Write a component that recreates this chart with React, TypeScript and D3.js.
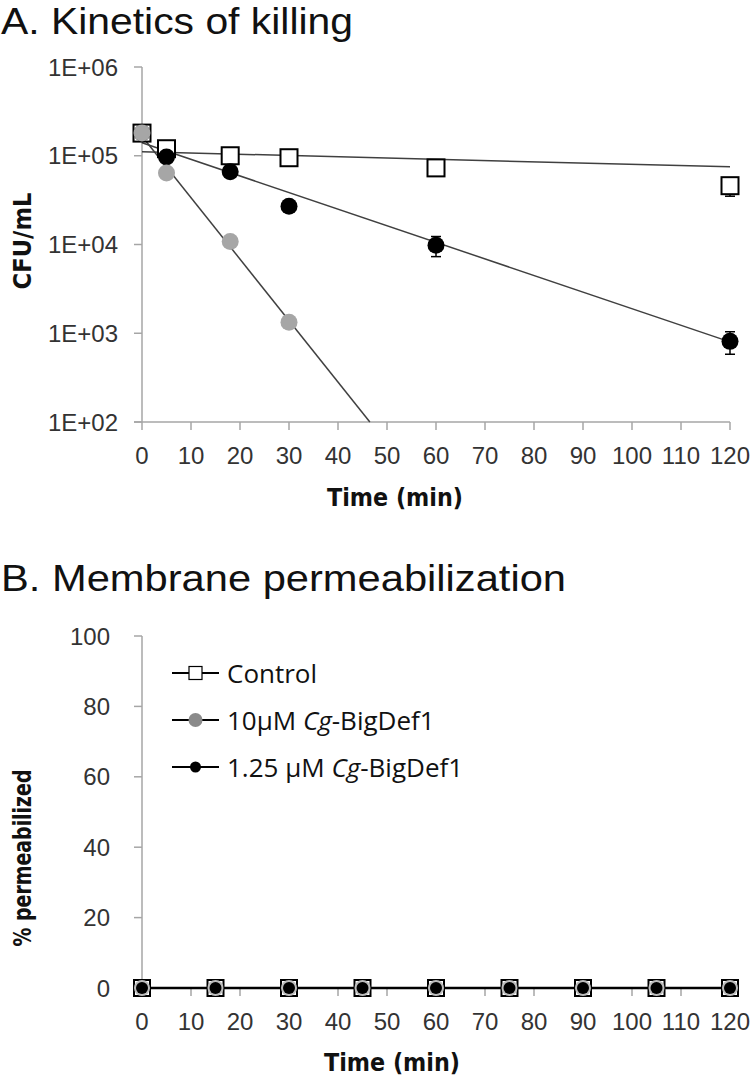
import React from "react";
import * as d3 from "d3";

// ---------- Panel A data ----------
const timeA = [0, 5, 18, 30, 60, 120];
const controlA = [1.8e5, 1.2e5, 1.0e5, 0.95e5, 7.3e4, 4.6e4];
const controlErrA = [0, 0, 0, 0, 0, 1.1e4];
const bigdef125A = [1.8e5, 0.97e5, 6.6e4, 2.7e4, 9.8e3, 8.1e2];
const bigdef125ErrA = [0, 0, 0, 0, 2.5e3, 2.3e2];
const timeA10 = [0, 5, 18, 30];
const bigdef10A = [1.8e5, 6.4e4, 1.08e4, 1.33e3];
// exponential trend lines (endpoints)
const fitControl: [number, number][] = [[0, 1.11e5], [120, 7.5e4]];
const fit125: [number, number][] = [[0, 1.4e5], [120, 8.0e2]];
const fit10: [number, number][] = [[0, 1.66e5], [46.5, 1e2]];
const yTicksA = [1e2, 1e3, 1e4, 1e5, 1e6];
const yTickLabelsA = ["1E+02", "1E+03", "1E+04", "1E+05", "1E+06"];
const xTicks = [0, 10, 20, 30, 40, 50, 60, 70, 80, 90, 100, 110, 120];

// ---------- Panel B data ----------
const timeB = [0, 15, 30, 45, 60, 75, 90, 105, 120];
const controlB = [0, 0, 0, 0, 0, 0, 0, 0, 0];
const bigdef10B = [0, 0, 0, 0, 0, 0, 0, 0, 0];
const bigdef125B = [0, 0, 0, 0, 0, 0, 0, 0, 0];
const yTicksB = [0, 20, 40, 60, 80, 100];

const AXIS = "#a6a6a6";
const FIT = "#404040";
const GREY_A = "#a6a6a6";
const GREY_B = "#8a8a8a";
const TICKFONT = "'Liberation Sans', Arial, sans-serif";
const TITLEFONT = "'Liberation Sans', Arial, sans-serif";
const LEGENDFONT = "'Open Sans', 'Noto Sans', sans-serif";

export default function App() {
  const x = d3.scaleLinear().domain([0, 120]).range([142, 730]);
  const yA = d3.scaleLog().domain([1e2, 1e6]).range([422, 67]);
  const yB = d3.scaleLinear().domain([0, 100]).range([988, 636]);

  const lineA = d3
    .line<[number, number]>()
    .x((d) => x(d[0]))
    .y((d) => yA(d[1]));
  const lineB = d3
    .line<number>()
    .x((_, i) => x(timeB[i]))
    .y((d) => yB(d));

  const sq = 17;
  const r = 8.5;

  return (
    <svg
      width={750}
      height={1079}
      style={{ position: "absolute", left: 0, top: 0, background: "#fff" }}
    >
      <rect x={0} y={0} width={750} height={1079} fill="#fff" />
      {/* ---------- Titles ---------- */}
      <text x={1} y={34} fontFamily={TITLEFONT} fontSize={37} fill="#111" textLength={352} lengthAdjust="spacingAndGlyphs">
        A. Kinetics of killing
      </text>
      <text x={1} y={591} fontFamily={TITLEFONT} fontSize={37} fill="#111" textLength={565} lengthAdjust="spacingAndGlyphs">
        B. Membrane permeabilization
      </text>

      {/* ---------- Panel A axes ---------- */}
      <g>
        <line x1={142} x2={142} y1={yA(1e6)} y2={yA(1e2)} stroke={AXIS} strokeWidth={1.5} />
        <line x1={134} x2={x(120)} y1={yA(1e2)} y2={yA(1e2)} stroke={AXIS} strokeWidth={1.5} />
        {yTicksA.map((t, i) => (
          <g key={"ya" + t}>
            <line x1={134} x2={142} y1={yA(t)} y2={yA(t)} stroke={AXIS} strokeWidth={1.5} />
            <text x={118} y={yA(t) + 8.5} textAnchor="end" fontFamily={TICKFONT} fontSize={24} fill="#333">
              {yTickLabelsA[i]}
            </text>
          </g>
        ))}
        {xTicks.map((t) => (
          <g key={"xa" + t}>
            <line x1={x(t)} x2={x(t)} y1={422} y2={430} stroke={AXIS} strokeWidth={1.5} />
            <text x={x(t)} y={464} textAnchor="middle" fontFamily={TICKFONT} fontSize={24} fill="#333">
              {t}
            </text>
          </g>
        ))}
        <text x={395} y={506} textAnchor="middle" fontFamily="'DejaVu Sans', sans-serif" fontWeight="bold" fontSize={24} fill="#111" textLength={136} lengthAdjust="spacingAndGlyphs">
          Time (min)
        </text>
        <text transform="translate(31,241) rotate(-90)" textAnchor="middle" fontFamily="'DejaVu Sans', sans-serif" fontWeight="bold" fontSize={25} fill="#111" textLength={97} lengthAdjust="spacingAndGlyphs">
          CFU/mL
        </text>
      </g>

      {/* ---------- Panel A fit lines ---------- */}
      <path d={lineA(fitControl) || ""} fill="none" stroke={FIT} strokeWidth={1.5} />
      <path d={lineA(fit125) || ""} fill="none" stroke={FIT} strokeWidth={1.5} />
      <path d={lineA(fit10) || ""} fill="none" stroke={FIT} strokeWidth={1.5} />

      {/* ---------- Panel A error bars ---------- */}
      {timeA.map((t, i) =>
        controlErrA[i] > 0 ? (
          <g key={"ec" + t} stroke="#000" strokeWidth={1.5}>
            <line x1={x(t)} x2={x(t)} y1={yA(controlA[i] + controlErrA[i])} y2={yA(controlA[i] - controlErrA[i])} />
            <line x1={x(t) - 5} x2={x(t) + 5} y1={yA(controlA[i] - controlErrA[i])} y2={yA(controlA[i] - controlErrA[i])} />
          </g>
        ) : null
      )}
      {timeA.map((t, i) =>
        bigdef125ErrA[i] > 0 ? (
          <g key={"eb" + t} stroke="#000" strokeWidth={1.5}>
            <line x1={x(t)} x2={x(t)} y1={yA(bigdef125A[i] + bigdef125ErrA[i])} y2={yA(bigdef125A[i] - bigdef125ErrA[i])} />
            <line x1={x(t) - 5} x2={x(t) + 5} y1={yA(bigdef125A[i] + bigdef125ErrA[i])} y2={yA(bigdef125A[i] + bigdef125ErrA[i])} />
            <line x1={x(t) - 5} x2={x(t) + 5} y1={yA(bigdef125A[i] - bigdef125ErrA[i])} y2={yA(bigdef125A[i] - bigdef125ErrA[i])} />
          </g>
        ) : null
      )}

      {/* ---------- Panel A markers ---------- */}
      {timeA.map((t, i) => (
        <rect key={"ca" + t} x={x(t) - sq / 2} y={yA(controlA[i]) - sq / 2} width={sq} height={sq} fill="#fff" stroke="#000" strokeWidth={2} />
      ))}
      {timeA.map((t, i) => (
        <circle key={"ba" + t} cx={x(t)} cy={yA(bigdef125A[i])} r={r} fill="#000" />
      ))}
      {timeA10.map((t, i) => (
        <circle key={"ga" + t} cx={x(t)} cy={yA(bigdef10A[i])} r={r} fill={GREY_A} />
      ))}

      {/* ---------- Panel B axes ---------- */}
      <g>
        <line x1={142} x2={142} y1={yB(100)} y2={yB(0)} stroke={AXIS} strokeWidth={1.5} />
        <line x1={142} x2={x(120)} y1={yB(0)} y2={yB(0)} stroke={AXIS} strokeWidth={1.5} />
        {yTicksB.map((t) => (
          <g key={"yb" + t}>
            <line x1={134} x2={142} y1={yB(t)} y2={yB(t)} stroke={AXIS} strokeWidth={1.5} />
            <text x={110} y={yB(t) + 8.5} textAnchor="end" fontFamily={TICKFONT} fontSize={24} fill="#333">
              {t}
            </text>
          </g>
        ))}
        {xTicks.map((t) => (
          <g key={"xb" + t}>
            <line x1={x(t)} x2={x(t)} y1={988} y2={996} stroke={AXIS} strokeWidth={1.5} />
            <text x={x(t)} y={1030} textAnchor="middle" fontFamily={TICKFONT} fontSize={24} fill="#333">
              {t}
            </text>
          </g>
        ))}
        <text x={392} y={1071} textAnchor="middle" fontFamily="'DejaVu Sans', sans-serif" fontWeight="bold" fontSize={24} fill="#111" textLength={136} lengthAdjust="spacingAndGlyphs">
          Time (min)
        </text>
        <text transform="translate(31,858) rotate(-90)" textAnchor="middle" fontFamily="'DejaVu Sans', sans-serif" fontWeight="bold" fontSize={24} fill="#111" textLength={177} lengthAdjust="spacingAndGlyphs">
          % permeabilized
        </text>
      </g>

      {/* ---------- Panel B series ---------- */}
      <path d={lineB(controlB) || ""} fill="none" stroke="#000" strokeWidth={1.5} />
      <path d={lineB(bigdef10B) || ""} fill="none" stroke="#000" strokeWidth={2} />
      <path d={lineB(bigdef125B) || ""} fill="none" stroke="#000" strokeWidth={2.5} />
      {timeB.map((t, i) => (
        <rect key={"cb" + t} x={x(t) - 8} y={yB(controlB[i]) - 8} width={16} height={16} fill="#fff" stroke="#000" strokeWidth={2} />
      ))}
      {timeB.map((t, i) => (
        <circle key={"gb" + t} cx={x(t)} cy={yB(bigdef10B[i])} r={8} fill="#bdbdbd" />
      ))}
      {timeB.map((t, i) => (
        <circle key={"bb" + t} cx={x(t)} cy={yB(bigdef125B[i])} r={6} fill="#000" />
      ))}

      {/* ---------- Panel B legend ---------- */}
      <g fontFamily={LEGENDFONT} fontSize={26} fill="#111">
        <line x1={172} x2={219} y1={673} y2={673} stroke="#000" strokeWidth={2} />
        <rect x={189} y={666.5} width={13} height={13} fill="#fff" stroke="#000" strokeWidth={1.2} />
        <text x={227} y={683}>Control</text>

        <line x1={172} x2={219} y1={720} y2={720} stroke="#000" strokeWidth={2} />
        <circle cx={195.5} cy={720} r={7} fill={GREY_B} />
        <text x={227} y={730}>
          10µM <tspan fontStyle="italic">Cg</tspan>-BigDef1
        </text>

        <line x1={172} x2={219} y1={767} y2={767} stroke="#000" strokeWidth={2} />
        <circle cx={195.5} cy={767} r={5.5} fill="#000" />
        <text x={227} y={777}>
          1.25 µM <tspan fontStyle="italic">Cg</tspan>-BigDef1
        </text>
      </g>
    </svg>
  );
}
